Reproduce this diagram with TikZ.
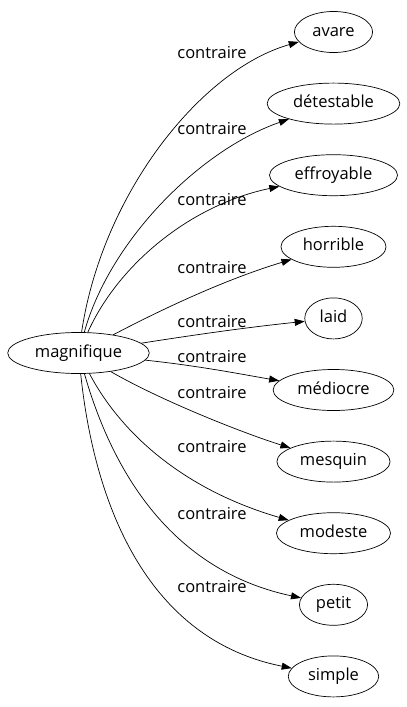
\documentclass[tikz,border=0pt]{standalone}
\usepackage{fontspec}
\setmainfont{Open Sans}
\usepackage{tikz}
\usetikzlibrary{arrows.meta,shapes.geometric}

\begin{document}
\begin{tikzpicture}[
  x=1pt, y=-1pt,
  word/.style={draw, ellipse, line width=0.7pt, inner xsep=6.5pt, inner ysep=6.5pt,
    text height=12pt, text depth=4pt, font=\fontsize{16.5}{20}\selectfont},
  lab/.style={inner sep=0pt, font=\fontsize{16.5}{20}\selectfont},
  arr/.style={-{Triangle[length=10pt, width=7pt]}, line width=0.7pt}
]
  \useasboundingbox (0,0) rectangle (407,707);
  \node[word] (mag) at (78.5,353) {magnifique};
  \foreach \name/\txt/\y in {avare/avare/32, detest/détestable/103.6,
      effroy/effroyable/175.2, horrib/horrible/246.8, laid/laid/318.4,
      medioc/médiocre/390, mesqu/mesquin/461.6, modest/modeste/533.2,
      petit/petit/604.8, simple/simple/676.4}
    \node[word] (\name) at (333.5,\y) {\txt};

  % labels
  \foreach \i/\y in {1/53, 2/129, 3/200, 4/268, 5/322, 6/357, 7/393, 8/447, 9/514, 10/587}
    \node[lab] (lab\i) at (212,\y) {contraire};

  % edges
  \draw[arr] (mag) .. controls (102,195) and (200,70) .. (avare);
  \draw[arr] (mag) .. controls (110,240) and (200,150) .. (detest);
  \draw[arr] (mag) .. controls (118,265) and (190,205) .. (effroy);
  \draw[arr] (mag) .. controls (170,305) and (230,278) .. (horrib);
  \draw[arr] (mag) .. controls (200,334) and (250,327) .. (laid);
  \draw[arr] (mag) .. controls (200,366) and (240,374) .. (medioc);
  \draw[arr] (mag) .. controls (160,400) and (240,432) .. (mesqu);
  \draw[arr] (mag) .. controls (122,435) and (185,490) .. (modest);
  \draw[arr] (mag) .. controls (112,470) and (170,570) .. (petit);
  \draw[arr] (mag) .. controls (95,510) and (150,640) .. (simple);
\end{tikzpicture}
\end{document}
